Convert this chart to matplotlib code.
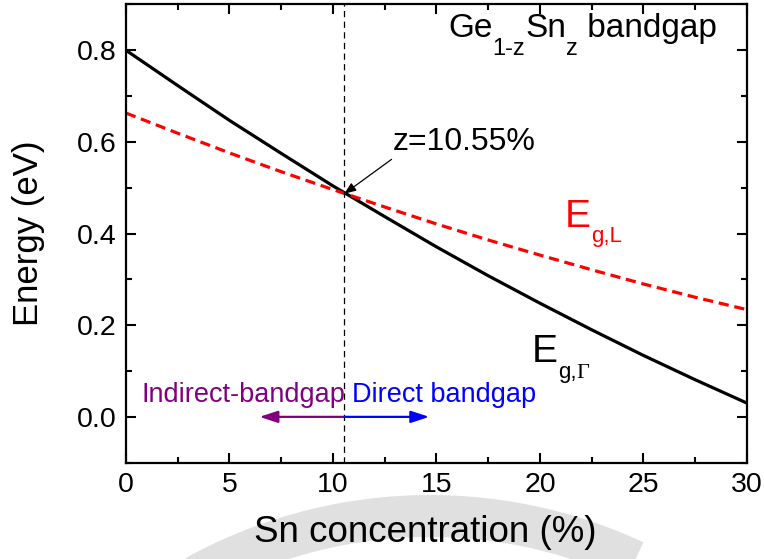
import matplotlib
matplotlib.use('Agg')
import matplotlib.pyplot as plt
from matplotlib.ticker import MultipleLocator
from matplotlib.transforms import IdentityTransform
from matplotlib.patches import Wedge

# Sn content (%) and the two band edges (eV)
sn_pct = [0, 2.5, 5, 7.5, 10, 12.5, 15, 17.5, 20, 22.5, 25, 27.5, 30]
eg_gamma = [0.800, 0.723, 0.647, 0.575, 0.504, 0.437, 0.371, 0.308,
            0.248, 0.190, 0.134, 0.081, 0.030]
eg_l = [0.663, 0.619, 0.576, 0.535, 0.496, 0.458, 0.421, 0.386,
        0.353, 0.321, 0.290, 0.261, 0.234]

# indirect -> direct crossover
z_cross = 10.55
e_cross = 0.487
arrow_len = 4.1

plt.rcParams['font.family'] = ['Liberation Sans', 'DejaVu Sans']

fig = plt.figure(figsize=(7.64, 5.59), dpi=100)
ax = fig.add_axes([0.1649, 0.1723, 0.8128, 0.8197])
renderer = fig.canvas.get_renderer()


def rich_text(x, y, pieces, color='black', transform=None):
    """Write text pieces one after another; each piece is
    (string, fontsize, drop below baseline in pt, font family)."""
    if transform is None:
        transform = ax.transData
    x0, y0 = transform.transform((x, y))
    for s, size, drop, family in pieces:
        t = ax.text(x0, y0 - drop * fig.dpi / 72, s, transform=IdentityTransform(),
                    fontsize=size, color=color, family=family, va='baseline')
        x0 = t.get_window_extent(renderer).x1


ax.plot(sn_pct, eg_gamma, color='black', lw=2.3)
ax.plot(sn_pct, eg_l, color='red', lw=2.3, ls=(0, (3.2, 1.8)))
ax.axvline(z_cross, color='black', lw=0.9, ls=(0, (5, 3.5)))

ax.set_xlim(0, 30)
ax.set_ylim(-0.1, 0.9)
ax.xaxis.set_major_locator(MultipleLocator(5))
ax.xaxis.set_minor_locator(MultipleLocator(2.5))
ax.yaxis.set_major_locator(MultipleLocator(0.2))
ax.yaxis.set_minor_locator(MultipleLocator(0.1))
ax.tick_params(which='both', direction='in', top=True, right=True, width=1.5)
ax.tick_params(which='major', length=7, labelsize=20.5, pad=7)
ax.tick_params(which='minor', length=4)
for sp in ax.spines.values():
    sp.set_linewidth(1.6)

ax.set_xlabel('Sn concentration (%)', fontsize=26.5)
ax.set_ylabel('Energy (eV)', fontsize=25)
ax.xaxis.set_label_coords(0.4815, -0.115)
ax.yaxis.set_label_coords(-0.13, 0.5)

sans = 'Liberation Sans'
serif = 'Liberation Serif'
rich_text(0.5185, 0.929, [('Ge', 24, 0, sans), ('1-z', 17, 13, sans),
                          ('Sn', 24, 0, sans), ('z', 17, 13, sans),
                          (' bandgap', 24, 0, sans)],
          transform=ax.transAxes)

# crossover marker
ax.annotate('', xy=(z_cross, e_cross), xytext=(12.83, 0.562),
            arrowprops=dict(arrowstyle='-|>,head_length=0.5,head_width=0.2',
                            color='black', lw=0.9, shrinkA=0, shrinkB=0,
                            mutation_scale=14))
ax.text(12.9, 0.582, 'z=10.55%', fontsize=23, va='baseline')

rich_text(21.2, 0.414, [('E', 28, 0, sans), ('g,L', 16, 11, sans)], color='red')
rich_text(19.6, 0.119, [('E', 28, 0, sans), ('g,', 16, 11, sans),
                        ('\u0393', 16, 11, serif)])

# indirect / direct regions
ax.annotate('', xy=(z_cross - arrow_len, 0), xytext=(z_cross, 0),
            arrowprops=dict(arrowstyle='-|>,head_length=0.55,head_width=0.18',
                            color='purple', lw=1.6, shrinkA=0, shrinkB=0,
                            mutation_scale=20))
ax.annotate('', xy=(z_cross + arrow_len, 0), xytext=(z_cross, 0),
            arrowprops=dict(arrowstyle='-|>,head_length=0.55,head_width=0.18',
                            color='blue', lw=1.6, shrinkA=0, shrinkB=0,
                            mutation_scale=20))
ax.text(0.77, 0.033, 'Indirect-bandgap', color='purple', fontsize=19.5,
        va='baseline')
ax.text(10.92, 0.033, 'Direct bandgap', color='blue', fontsize=19.5,
        va='baseline')

# faint grey stamp behind the x label
stamp = Wedge((430, 559 - 1000), 505, 65, 119, width=42,
              transform=IdentityTransform(), facecolor='#d9d9d9',
              edgecolor='none', alpha=0.8, zorder=-1)
fig.add_artist(stamp)

fig.savefig('out.png', dpi=100)
